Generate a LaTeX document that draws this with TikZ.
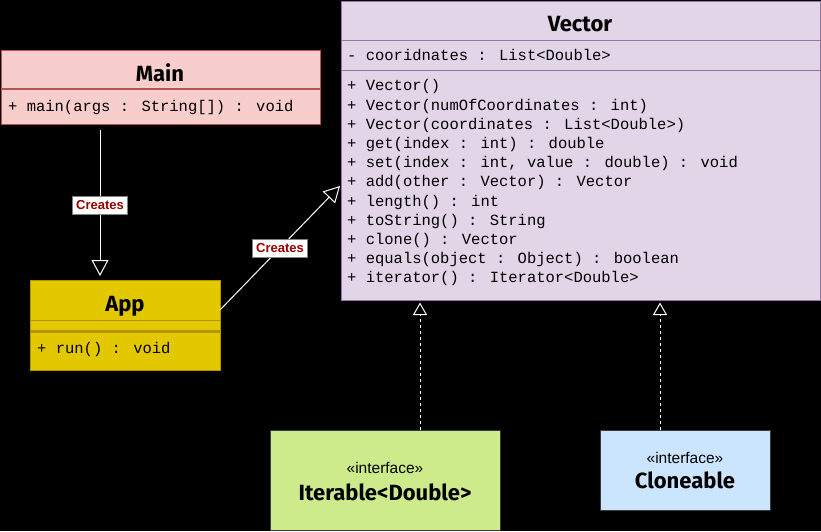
\documentclass[tikz,border=0pt]{standalone}
\usepackage{fontspec}
\setmainfont{Liberation Sans}
\newfontfamily\monof{Liberation Mono}
\newfontfamily\titlef{Fira Sans}
\usetikzlibrary{arrows.meta}
\definecolor{mainfill}{HTML}{F8CECC}
\definecolor{mainline}{HTML}{B85450}
\definecolor{appfill}{HTML}{E3C800}
\definecolor{appline}{HTML}{B09500}
\definecolor{vecfill}{HTML}{E1D5E7}
\definecolor{vecline}{HTML}{9673A6}
\definecolor{iterfill}{HTML}{CDEB8B}
\definecolor{clonefill}{HTML}{CCE5FF}
\definecolor{ifline}{HTML}{36393D}
\definecolor{lblred}{HTML}{990000}
\tikzset{
  umlbox/.style={anchor=north west, inner sep=0pt, line width=1pt},
  member/.style={anchor=base west, inner sep=0pt, font=\monof\fontsize{15.5}{18}\selectfont},
  ttl/.style={anchor=base, inner sep=0pt, font=\titlef\bfseries\fontsize{22}{26}\selectfont},
  stereo/.style={anchor=base, inner sep=0pt, font=\fontsize{15.5}{18}\selectfont},
  assoc/.style={draw=white, line width=1pt, -{Triangle[open, length=16pt, width=17pt, line width=1pt]}},
  realize/.style={draw=white, line width=1pt, dash pattern=on 3pt off 3pt, -{Triangle[open, length=12.5pt, width=14pt, line width=1pt]}},
  lbl/.style={fill=white, draw=gray, line width=0.6pt, text=lblred, font=\bfseries\fontsize{13}{15}\selectfont, inner xsep=3.5pt, inner ysep=0pt, minimum height=18pt}
}
\begin{document}
\begin{tikzpicture}[x=1pt,y=-1pt]
\fill[black] (0,0) rectangle (821,531);
\useasboundingbox (0,0) rectangle (821,531);

% Main
\node[umlbox, draw=mainline, fill=mainfill, minimum width=319.5pt, minimum height=74pt] (main) at (0.5,50) {};
\draw[mainline, line width=2pt] (0.5,89) -- (320,89);
\node[ttl] (maint) at (160,81) {Main};
\node[member] (mainm) at (8,111.5) {+ main(args : String[]) : void};

% App
\node[umlbox, draw=appline, fill=appfill, minimum width=190pt, minimum height=90pt] (app) at (30,280) {};
\draw[appline, line width=1pt] (30,320.5) -- (220,320.5);
\draw[appline, line width=2.5pt] (30,331.5) -- (220,331.5);
\node[ttl] (appt) at (125,311) {App};
\node[member] (appm) at (37,353) {+ run() : void};

% Vector
\node[umlbox, draw=vecline, fill=vecfill, minimum width=479.5pt, minimum height=299.5pt] (vector) at (340.5,0.5) {};
\draw[vecline, line width=1pt] (340.5,40) -- (820,40);
\draw[vecline, line width=1pt] (340.5,70) -- (820,70);
\node[ttl] (vect) at (580,31.5) {Vector};
\node[member] (va) at (347,60.5) {- cooridnates : List<Double>};
\node[member] (v1) at (347,90.9) {+ Vector()};
\node[member] (v2) at (347,110.1) {+ Vector(numOfCoordinates : int)};
\node[member] (v3) at (347,129.3) {+ Vector(coordinates : List<Double>)};
\node[member] (v4) at (347,148.5) {+ get(index : int) : double};
\node[member] (v5) at (347,167.7) {+ set(index : int, value : double) : void};
\node[member] (v6) at (347,186.9) {+ add(other : Vector) : Vector};
\node[member] (v7) at (347,206.1) {+ length() : int};
\node[member] (v8) at (347,225.3) {+ toString() : String};
\node[member] (v9) at (347,244.5) {+ clone() : Vector};
\node[member] (v10) at (347,263.7) {+ equals(object : Object) : boolean};
\node[member] (v11) at (347,282.9) {+ iterator() : Iterator<Double>};

% Interfaces
\node[umlbox, draw=ifline, fill=iterfill, minimum width=230pt, minimum height=100pt] (iter) at (270,430) {};
\node[stereo] (iters) at (385,473) {«interface»};
\node[ttl] (itert) at (385,500) {Iterable<Double>};
\node[umlbox, draw=ifline, fill=clonefill, minimum width=170pt, minimum height=80pt] (clone) at (600,430) {};
\node[stereo] (clones) at (685,463) {«interface»};
\node[ttl] (clonet) at (685,488) {Cloneable};

% Connectors
\coordinate (mc) at (100,130);
\draw[assoc, shorten >=4pt] (mc) -- node[lbl] (l1) {Creates} (app.north -| mc);
\coordinate (as) at (220,310);
\coordinate (vt) at (340,186);
\draw[assoc] (as) -- node[lbl] (l2) {Creates} (vt);
\coordinate (x420) at (420,0);
\coordinate (x660) at (660,0);
\draw[realize, shorten >=1.5pt] (iter.north -| x420) -- (vector.south -| x420);
\draw[realize, shorten >=1.5pt] (clone.north -| x660) -- (vector.south -| x660);
\end{tikzpicture}
\end{document}
